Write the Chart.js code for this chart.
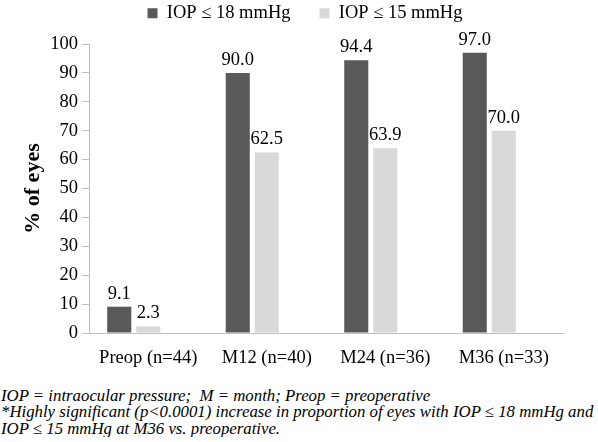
<!DOCTYPE html>
<html>
<head>
<meta charset="utf-8">
<script src="https://cdn.jsdelivr.net/npm/chart.js@4"></script>
<style>
  html, body { margin: 0; padding: 0; background: #fff; }
  #wrap { width: 598px; height: 380px; position: relative; }
  #note { font-family: "Liberation Serif", serif; font-style: italic; font-size: 16.8px; line-height: 16.4px; color: #000; margin: 8px 0 0 1px; white-space: nowrap; }
</style>
</head>
<body>
<div id="wrap"><canvas id="chart" width="598" height="380"></canvas></div>
<div id="note">IOP = intraocular pressure;&nbsp; M = month; Preop = preoperative<br>*Highly significant (p&lt;0.0001) increase in proportion of eyes with IOP ≤ 18 mmHg and<br>IOP ≤ 15 mmHg at M36 vs. preoperative.</div>
<script>
// Data
const categories = ['Preop (n=44)', 'M12 (n=40)', 'M24 (n=36)', 'M36 (n=33)'];
const iop18 = [9.1, 90.0, 94.4, 97.0];
const iop15 = [2.3, 62.5, 63.9, 70.0];
const yTicks = [0, 10, 20, 30, 40, 50, 60, 70, 80, 90, 100];

const serif = '"Liberation Serif", "Times New Roman", serif';
const fontSize = 18.5;

// value labels above each bar
const barLabels = {
    id: 'barLabels',
    afterDatasetsDraw(chart) {
        const ctx = chart.ctx;
        ctx.save();
        ctx.font = fontSize + 'px ' + serif;
        ctx.fillStyle = '#000';
        ctx.textAlign = 'center';
        ctx.textBaseline = 'alphabetic';
        chart.data.datasets.forEach((ds, i) => {
            const meta = chart.getDatasetMeta(i);
            meta.data.forEach((bar, j) => {
                const v = ds.data[j];
                if (v == null) return;
                ctx.fillText(v.toFixed(1), bar.x, bar.y - 8);
            });
        });
        ctx.restore();
    }
};

// legend: fixed height for the layout, then moved up to the top edge of the canvas
const legendPlace = {
    id: 'legendPlace',
    beforeInit(chart) {
        const fit = chart.legend.fit;
        chart.legend.fit = function () {
            fit.bind(chart.legend)();
            this.height = 44;
        };
    },
    afterLayout(chart) {
        const lg = chart.legend;
        lg.left = 12;
        lg.right = chart.width;
        lg.width = lg.right - lg.left;
        lg.top = -25;
        lg.bottom = 60;
        lg.height = lg.bottom - lg.top;
    }
};

const ctx = document.getElementById('chart').getContext('2d');
const chart = new Chart(ctx, {
    type: 'bar',
    data: {
        labels: categories,
        datasets: [{
            label: 'IOP ≤ 18 mmHg',
            data: iop18,
            backgroundColor: '#595959'
        }, {
            label: 'IOP ≤ 15 mmHg',
            data: iop15,
            backgroundColor: '#d9d9d9'
        }, {
            // empty third series, keeps the original's off-centre grouping
            label: '',
            data: categories.map(() => null),
            backgroundColor: 'rgba(0,0,0,0)'
        }]
    },
    options: {
        responsive: false,
        animation: false,
        categoryPercentage: 0.734,
        barPercentage: 0.83,
        layout: { padding: { left: 0, right: 35, top: 0, bottom: 0 } },
        plugins: {
            tooltip: { enabled: false },
            legend: {
                position: 'top',
                labels: {
                    font: { family: serif, size: fontSize },
                    color: '#000',
                    boxWidth: 10,
                    boxHeight: 10,
                    padding: 29,
                    filter: item => item.text !== ''
                }
            }
        },
        scales: {
            x: {
                grid: { drawOnChartArea: false, drawTicks: false },
                border: { color: '#bfbfbf' },
                ticks: { font: { family: serif, size: fontSize }, color: '#000', padding: 14 },
                afterFit(scale) { scale.height = 47; }
            },
            y: {
                min: 0,
                max: 100,
                afterBuildTicks(scale) { scale.ticks = yTicks.map(v => ({ value: v })); },
                grid: { drawOnChartArea: false, tickLength: 7, color: '#bfbfbf' },
                border: { color: '#bfbfbf' },
                ticks: { font: { family: serif, size: fontSize }, color: '#000', padding: 4 },
                title: {
                    display: true,
                    text: '% of eyes',
                    font: { family: serif, size: 22, weight: 'bold' },
                    color: '#000',
                    padding: { top: 20, bottom: 0 }
                },
                afterFit(scale) { scale.width = 89; }
            }
        }
    },
    plugins: [barLabels, legendPlace]
});
</script>
</body>
</html>
